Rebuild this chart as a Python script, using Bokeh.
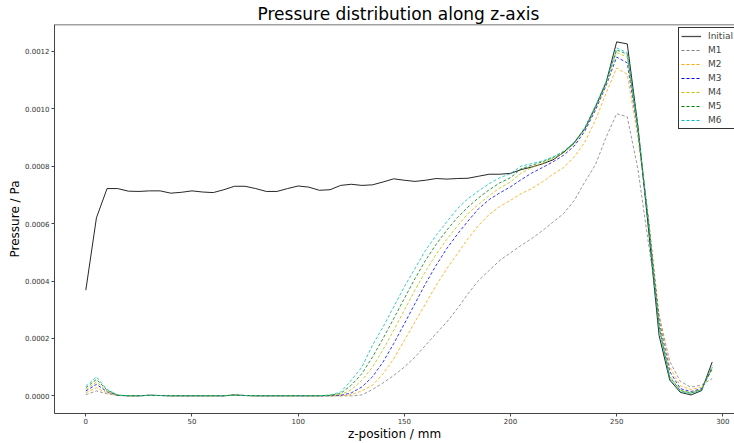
import numpy as np
from bokeh.plotting import figure
from bokeh.models import Range1d, FixedTicker, NumeralTickFormatter, Legend, LegendItem, Span
from bokeh.embed import file_html
from bokeh.resources import INLINE

# z-positions (mm)
z_mm = [0, 5, 10, 15, 20, 25, 30, 35, 40, 45, 50, 55, 60, 65, 70, 75, 80, 85, 90, 95,
        100, 105, 110, 115, 120, 125, 130, 135, 140, 145, 150, 155, 160, 165, 170, 175,
        180, 185, 190, 195, 200, 205, 210, 215, 220, 225, 230, 235, 240, 245, 250, 255,
        260, 265, 270, 275, 280, 285, 290, 295]

# pressure values in micro-Pa units (converted to Pa below)
initial_u = [368, 620, 722, 722, 713, 712, 714, 714, 706, 709, 714, 710, 708, 718, 730, 730,
             722, 712, 712, 722, 731, 727, 716, 718, 733, 737, 733, 735, 745, 756, 751, 747,
             751, 757, 755, 757, 758, 765, 772, 772, 775, 788, 797, 808, 822, 848, 882, 930,
             1005, 1090, 1233, 1226, 940, 580, 210, 55, 12, 3, 18, 118]
m1_u = [4, 17, 7, 1, 0, 0, 2, 1, 0, 0, 0, 0, 0, 0, 3, 1, 0, 0, 0, 0, 0, 0, 0, 0,
        0, 0, 3, 22, 45, 71, 100, 135, 176, 217, 257, 304, 356, 402, 437, 472, 498, 524,
        548, 575, 605, 635, 680, 745, 805, 900, 983, 972, 790, 530, 280, 120, 50, 30, 38, 60]
m2_u = [11, 28, 10, 2, 0, 0, 2, 1, 0, 0, 0, 0, 0, 0, 3, 1, 0, 0, 0, 0, 0, 0, 0, 0,
        0, 4, 17, 37, 77, 129, 193, 257, 321, 385, 443, 495, 548, 594, 632, 660, 681, 704,
        722, 745, 772, 795, 832, 884, 960, 1054, 1142, 1120, 900, 620, 280, 100, 35, 22, 30, 90]
m3_u = [17, 40, 14, 2, 0, 0, 2, 1, 0, 0, 0, 0, 0, 0, 3, 1, 0, 0, 0, 0, 0, 0, 0, 0,
        2, 10, 31, 66, 118, 182, 251, 321, 391, 455, 513, 563, 609, 652, 684, 707, 728, 753,
        776, 795, 815, 838, 870, 922, 995, 1080, 1180, 1160, 920, 610, 260, 85, 25, 15, 25, 95]
m4_u = [22, 48, 17, 2, 0, 0, 2, 1, 0, 0, 0, 0, 0, 0, 3, 1, 0, 0, 0, 0, 0, 0, 0, 1,
        4, 21, 54, 100, 161, 228, 298, 368, 434, 493, 545, 592, 635, 667, 698, 724, 745, 776,
        795, 810, 827, 846, 877, 930, 1003, 1085, 1196, 1180, 930, 610, 250, 70, 20, 12, 22, 98]
m5_u = [28, 57, 20, 2, 0, 0, 2, 1, 0, 0, 0, 0, 0, 0, 3, 1, 0, 0, 0, 0, 0, 0, 0, 2,
        8, 37, 77, 135, 200, 269, 339, 408, 472, 528, 577, 621, 658, 690, 718, 742, 760, 791,
        803, 815, 830, 850, 880, 932, 1008, 1092, 1205, 1190, 930, 600, 240, 65, 18, 10, 22, 100]
m6_u = [33, 66, 22, 3, 0, 0, 2, 1, 0, 0, 0, 0, 0, 0, 3, 1, 0, 0, 0, 0, 0, 0, 0, 3,
        13, 54, 100, 176, 240, 310, 380, 443, 507, 559, 606, 652, 687, 714, 739, 760, 774, 800,
        809, 818, 832, 852, 882, 935, 1010, 1095, 1212, 1195, 940, 600, 230, 60, 15, 8, 20, 105]

series_names = ["Initial", "M1", "M2", "M3", "M4", "M5", "M6"]
series_u = [initial_u, m1_u, m2_u, m3_u, m4_u, m5_u, m6_u]
colors = ["black", "gray", "orange", "blue", "#bfbf00", "green", "#00bfbf"]

x_ticks = [0, 50, 100, 150, 200, 250, 300]
y_ticks = [0.0, 0.0002, 0.0004, 0.0006, 0.0008, 0.0010, 0.0012]

FONT = "DejaVu Sans"
Y_TOP = 0.0012936

p = figure(width=734, height=443, output_backend="svg", toolbar_location=None,
           x_range=Range1d(-14.75, 305.5), y_range=Range1d(-0.0000616, Y_TOP),
           min_border_left=54, min_border_right=0, min_border_top=24, min_border_bottom=30,
           title="Pressure distribution along z-axis")
p.outline_line_color = None
p.grid.visible = False
p.background_fill_color = "white"
p.border_fill_color = "white"

p.title.text_font = FONT
p.title.text_font_size = "17px"
p.title.text_font_style = "normal"
p.title.text_color = "black"
p.title.align = "left"
p.title.offset = 203
p.title.standoff = 2

renderers = []
proxies = []
for name, vals, col in zip(series_names, series_u, colors):
    y = np.array(vals, dtype=float) * 1e-6
    if name == "Initial":
        r = p.line(z_mm, y, line_color=col, line_width=1.0, line_alpha=0.85)
        px = p.line([np.nan], [np.nan], line_color=col, line_width=1.3, line_alpha=0.7)
    else:
        r = p.line(z_mm, y, line_color=col, line_width=0.8, line_dash="3 2")
        px = p.line([np.nan], [np.nan], line_color=col, line_width=1.0, line_dash="3 2")
    renderers.append(r)
    proxies.append(px)

# top spine
p.add_layout(Span(location=Y_TOP, dimension="width", line_color="#444444", line_width=1.5))

for ax in (p.xaxis[0], p.yaxis[0]):
    ax.major_label_text_font = FONT
    ax.major_label_text_font_size = "7px"
    ax.major_label_text_color = "#333333"
    ax.major_tick_out = 3
    ax.major_tick_in = 0
    ax.minor_tick_out = 0
    ax.minor_tick_in = 0
    ax.axis_line_color = "#444444"
    ax.major_tick_line_color = "#444444"
    ax.major_label_standoff = 2
    ax.axis_label_text_font = FONT
    ax.axis_label_text_font_size = "12px"
    ax.axis_label_text_font_style = "normal"
    ax.axis_label_text_color = "black"
    ax.axis_label_standoff = 0
p.xaxis.major_label_standoff = 1
p.xaxis.axis_label = "z-position / mm"
p.yaxis.axis_label = "Pressure / Pa"
p.xaxis.ticker = FixedTicker(ticks=x_ticks)
p.yaxis.ticker = FixedTicker(ticks=y_ticks)
p.yaxis.formatter = NumeralTickFormatter(format="0.0000")

items = [LegendItem(label=n, renderers=[r]) for n, r in zip(series_names, proxies)]
legend = Legend(items=items, location=(624, 284), margin=0, padding=2, spacing=2,
                label_text_font=FONT, label_text_font_size="9px", label_height=12,
                glyph_height=12, glyph_width=20, label_standoff=7,
                border_line_color="black", border_line_width=1, border_line_alpha=0.8,
                background_fill_color="white", background_fill_alpha=1.0)
p.add_layout(legend)

open("out.html", "w").write(file_html(p, INLINE))
